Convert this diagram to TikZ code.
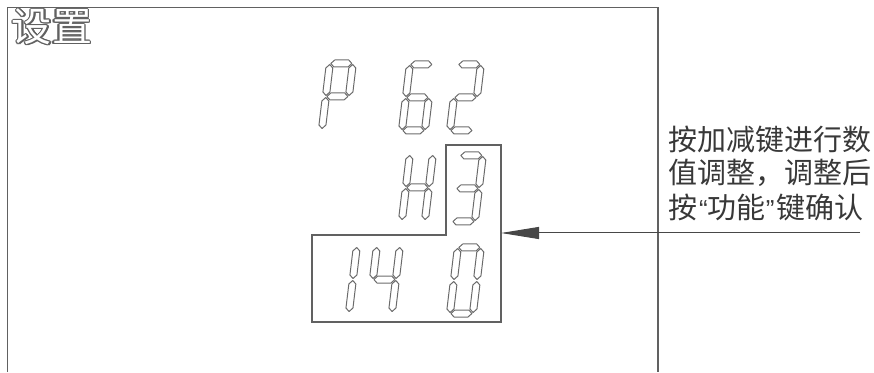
\documentclass[tikz,border=0pt]{standalone}
\usepackage{fontspec}
\newfontfamily\cjk{Noto Sans CJK SC}
\newfontfamily\qfont{Liberation Sans}
\usetikzlibrary{arrows.meta}
\tikzset{
  frameline/.style={draw=black!62, line width=1.2pt},
  boxline/.style={draw=black!62, line width=1.2pt},
  segline/.style={draw=black!58, line width=1pt, line join=round},
  note/.style={font=\cjk\fontsize{29}{34}\selectfont, text=black!78, inner sep=0pt, anchor=west},
  titletext/.style={font=\cjk\fontsize{40}{44}\selectfont, inner sep=0pt},
  pointer/.style={draw=black!72, line width=1pt, -{Triangle[length=38pt,width=12pt]}},
}
\newcommand\segH[1]{\draw[segline] (4.5,#1) -- ++(3.5,3.5) -- ++(14,0) -- ++(3.5,-3.5) -- ++(-3.5,-3.5) -- ++(-14,0) -- cycle;}
\newcommand\segV[2]{\draw[segline] (#1,#2+1) -- ++(3.5,3.5) -- ++(0,24) -- ++(-3.5,3.5) -- ++(-3.5,-3.5) -- ++(0,-24) -- cycle;}
\newcommand\sga{\segH{69.5}}
\newcommand\sgg{\segH{36.5}}
\newcommand\sgd{\segH{3.5}}
\newcommand\sgf{\segV{3.5}{36.5}}
\newcommand\sgb{\segV{26.5}{36.5}}
\newcommand\sge{\segV{3.5}{3.5}}
\newcommand\sgc{\segV{26.5}{3.5}}
\newcommand\sevdigit[3]{\begin{scope}[shift={(#1,#2)},xslant=0.12]\foreach \s in {#3}{\csname sg\s\endcsname}\end{scope}}
\newcommand\qmark[1]{{\qfont\fontsize{26}{30}\selectfont #1}}
\begin{document}
\begin{tikzpicture}[x=1pt,y=1pt]
\useasboundingbox (0,0) rectangle (874,372);
% outer frame (open at bottom)
\coordinate (fbl) at (7.5,0);
\coordinate (ftl) at (7.5,364.5);
\coordinate (ftr) at (658,364.5);
\coordinate (fbr) at (658,0);
\draw[frameline] (fbl) -- (ftl) -- (ftr) -- (fbr);
% title
\foreach \a in {0,30,...,330}
  \node[titletext, text=black!62, shift={(\a:1.2)}] at (52,345) {设置};
\node[titletext, text=white] (title) at (52,345) {设置};
% digits
\sevdigit{318}{239}{a,b,f,g,e}
\sevdigit{398}{238}{a,f,g,e,d,c}
\sevdigit{446}{238}{a,b,g,e,d}
\sevdigit{398}{148}{f,b,g,e,c}
\sevdigit{448}{147}{a,b,g,c,d}
\sevdigit{322}{56}{b,c}
\sevdigit{365}{56}{f,g,b,c}
\sevdigit{446}{55}{a,b,c,d,e,f}
% selection box
\coordinate (b1) at (446,227);
\coordinate (b2) at (501,227);
\coordinate (b3) at (501,50);
\coordinate (b4) at (312,50);
\coordinate (b5) at (312,137);
\coordinate (b6) at (446,137);
\draw[boxline] (b1) -- (b2) -- (b3) -- (b4) -- (b5) -- (b6) -- cycle;
% pointer
\coordinate (tip) at (501,139);
\coordinate (tail) at (860,139);
\draw[pointer] (tail) -- (tip);
% note
\node[note] (n1) at (668,233) {按加减键进行数};
\node[note] (n2) at (668,199) {值调整，调整后};
\node[note] (n3) at (668,165) {按\hspace{2pt}\qmark{“}功能\qmark{”}\hspace{2pt}键确认};
\end{tikzpicture}
\end{document}
